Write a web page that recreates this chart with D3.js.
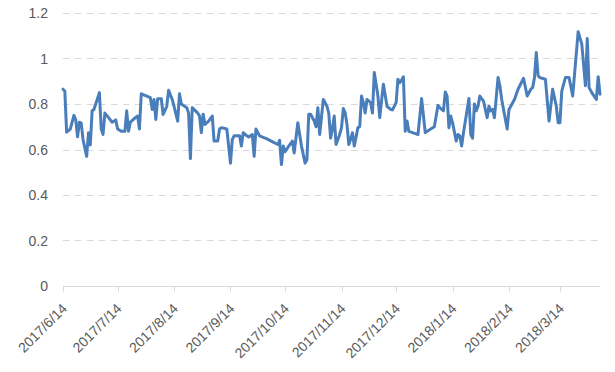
<!DOCTYPE html>
<html>
<head>
<meta charset="utf-8">
<script src="https://cdn.jsdelivr.net/npm/d3@7"></script>
<style>
  body { margin: 0; background: #fff; }
  svg { font-family: "Liberation Sans", Arial, sans-serif; }
</style>
</head>
<body>
<div id="chart"></div>
<script>
const dates = [
  "2017-06-14","2017-06-15","2017-06-16","2017-06-18","2017-06-20","2017-06-21","2017-06-22","2017-06-23","2017-06-24","2017-06-25",
  "2017-06-27","2017-06-28","2017-06-29","2017-06-30","2017-07-01","2017-07-04","2017-07-05","2017-07-06","2017-07-07","2017-07-09",
  "2017-07-11","2017-07-13","2017-07-14","2017-07-16","2017-07-18","2017-07-19","2017-07-20","2017-07-21","2017-07-23","2017-07-25",
  "2017-07-26","2017-07-27","2017-07-30","2017-08-01","2017-08-02","2017-08-03","2017-08-04","2017-08-05","2017-08-07","2017-08-08",
  "2017-08-10","2017-08-11","2017-08-13","2017-08-14","2017-08-16","2017-08-17","2017-08-18","2017-08-21","2017-08-22","2017-08-23",
  "2017-08-24","2017-08-27","2017-08-28","2017-08-29","2017-08-30","2017-08-31","2017-09-02","2017-09-04","2017-09-05","2017-09-07",
  "2017-09-08","2017-09-09","2017-09-12","2017-09-14","2017-09-15","2017-09-16","2017-09-19","2017-09-20","2017-09-21","2017-09-23",
  "2017-09-24","2017-09-26","2017-09-27","2017-09-28","2017-09-30","2017-10-04","2017-10-08","2017-10-10","2017-10-11","2017-10-12",
  "2017-10-13","2017-10-14","2017-10-16","2017-10-18","2017-10-19","2017-10-21","2017-10-23","2017-10-25","2017-10-26","2017-10-27",
  "2017-10-28","2017-10-30","2017-10-31","2017-11-01","2017-11-02","2017-11-04","2017-11-06","2017-11-07","2017-11-08","2017-11-09",
  "2017-11-10","2017-11-11","2017-11-13","2017-11-14","2017-11-15","2017-11-16","2017-11-17","2017-11-18","2017-11-19","2017-11-20",
  "2017-11-21","2017-11-23","2017-11-24","2017-11-25","2017-11-26","2017-11-27","2017-11-28","2017-11-30","2017-12-01","2017-12-02",
  "2017-12-04","2017-12-05","2017-12-07","2017-12-09","2017-12-11","2017-12-12","2017-12-14","2017-12-15","2017-12-16","2017-12-17",
  "2017-12-18","2017-12-19","2017-12-20","2017-12-21","2017-12-23","2017-12-26","2017-12-28","2017-12-30","2017-12-31","2018-01-02",
  "2018-01-04","2018-01-06","2018-01-07","2018-01-09","2018-01-10","2018-01-11","2018-01-12","2018-01-13","2018-01-14","2018-01-16",
  "2018-01-17","2018-01-18","2018-01-19","2018-01-20","2018-01-23","2018-01-24","2018-01-25","2018-01-26","2018-01-27","2018-01-28",
  "2018-01-29","2018-01-31","2018-02-02","2018-02-03","2018-02-04","2018-02-05","2018-02-06","2018-02-08","2018-02-09","2018-02-10",
  "2018-02-13","2018-02-14","2018-02-17","2018-02-19","2018-02-22","2018-02-24","2018-02-26","2018-02-27","2018-02-28","2018-03-01",
  "2018-03-02","2018-03-03","2018-03-06","2018-03-08","2018-03-10","2018-03-12","2018-03-13","2018-03-14","2018-03-15","2018-03-17",
  "2018-03-19","2018-03-21","2018-03-24","2018-03-26","2018-03-28","2018-03-29","2018-03-30","2018-04-01","2018-04-03","2018-04-04",
  "2018-04-05"
];

const values = [
  0.865,0.857,0.676,0.69,0.75,0.73,0.656,0.72,0.716,0.644,
  0.57,0.674,0.62,0.77,0.776,0.85,0.69,0.666,0.76,0.74,
  0.72,0.73,0.69,0.68,0.68,0.77,0.68,0.72,0.735,0.747,
  0.69,0.845,0.835,0.828,0.776,0.82,0.732,0.823,0.823,0.754,
  0.79,0.86,0.82,0.79,0.725,0.845,0.80,0.784,0.76,0.56,
  0.784,0.76,0.747,0.674,0.755,0.71,0.725,0.747,0.637,0.637,
  0.69,0.696,0.69,0.54,0.644,0.66,0.66,0.615,0.674,0.66,
  0.655,0.666,0.57,0.69,0.66,0.647,0.63,0.622,0.64,0.534,
  0.615,0.59,0.615,0.637,0.585,0.718,0.615,0.54,0.555,0.755,
  0.755,0.725,0.70,0.784,0.666,0.82,0.79,0.76,0.65,0.69,
  0.747,0.622,0.666,0.696,0.78,0.762,0.71,0.622,0.644,0.674,
  0.615,0.696,0.70,0.835,0.806,0.76,0.82,0.806,0.76,0.938,
  0.835,0.74,0.887,0.79,0.776,0.774,0.806,0.909,0.894,0.905,
  0.92,0.68,0.725,0.68,0.674,0.666,0.824,0.674,0.68,0.69,
  0.70,0.794,0.784,0.77,0.853,0.835,0.696,0.747,0.718,0.637,
  0.666,0.66,0.615,0.674,0.824,0.666,0.65,0.80,0.77,0.79,
  0.835,0.813,0.74,0.79,0.77,0.776,0.74,0.916,0.88,0.82,
  0.69,0.776,0.82,0.865,0.913,0.835,0.865,0.872,0.916,1.026,
  0.924,0.916,0.909,0.725,0.865,0.79,0.718,0.718,0.857,0.916,
  0.916,0.835,1.118,1.063,0.88,1.088,0.872,0.843,0.82,0.92,
  0.843
];

const tickDates = [
  "2017-06-14","2017-07-14","2017-08-14","2017-09-14","2017-10-14",
  "2017-11-14","2017-12-14","2018-01-14","2018-02-14","2018-03-14"
];
const yTicks = [0, 0.2, 0.4, 0.6, 0.8, 1, 1.2];

const width = 615, height = 372;
const margin = { left: 63, right: 15, top: 13, bottom: 86 };

const parse = d3.timeParse("%Y-%m-%d");
const fmt = d3.timeFormat("%Y/%-m/%-d");
const data = dates.map((d, i) => ({ date: parse(d), value: values[i] }));

const svg = d3.select("#chart").append("svg")
    .attr("width", width)
    .attr("height", height);

const x = d3.scaleTime()
    .domain([parse("2017-06-14"), parse("2018-04-05")])
    .range([margin.left, width - margin.right]);

const y = d3.scaleLinear()
    .domain([0, 1.2])
    .range([height - margin.bottom, margin.top]);

// dashed gridlines
svg.append("g")
  .selectAll("line")
  .data(yTicks.filter(d => d > 0))
  .enter().append("line")
    .attr("x1", x.range()[0])
    .attr("x2", x.range()[1])
    .attr("y1", d => Math.round(y(d)) + 0.5)
    .attr("y2", d => Math.round(y(d)) + 0.5)
    .attr("stroke", "#d9d9d9")
    .attr("stroke-width", 1)
    .attr("stroke-dasharray", "6.5,5.5");

// y labels
svg.append("g")
  .selectAll("text")
  .data(yTicks)
  .enter().append("text")
    .attr("x", 48)
    .attr("y", d => y(d))
    .attr("dy", "0.36em")
    .attr("text-anchor", "end")
    .attr("fill", "#595959")
    .style("font-size", "14px")
    .text(d => d);

// x axis line and ticks
const baseY = Math.round(y(0)) + 0.5;
svg.append("line")
    .attr("x1", x.range()[0])
    .attr("x2", x.range()[1])
    .attr("y1", baseY)
    .attr("y2", baseY)
    .attr("stroke", "#d9d9d9");

const ticks = tickDates.map(parse);
svg.append("g")
  .selectAll("line")
  .data(ticks)
  .enter().append("line")
    .attr("x1", d => Math.round(x(d)) + 0.5)
    .attr("x2", d => Math.round(x(d)) + 0.5)
    .attr("y1", baseY)
    .attr("y2", baseY + 5)
    .attr("stroke", "#d9d9d9");

svg.append("g")
  .selectAll("text")
  .data(ticks)
  .enter().append("text")
    .attr("transform", d => "translate(" + (x(d) + 5) + "," + (baseY + 23) + ") rotate(-45)")
    .attr("text-anchor", "end")
    .attr("fill", "#595959")
    .style("font-size", "14px")
    .text(d => fmt(d));

// the series
const line = d3.line()
    .x(d => x(d.date))
    .y(d => y(d.value));

svg.append("path")
    .datum(data)
    .attr("d", line)
    .attr("fill", "none")
    .attr("stroke", "#4a7ebb")
    .attr("stroke-width", 3)
    .attr("stroke-linejoin", "round")
    .attr("stroke-linecap", "round");
</script>
</body>
</html>
